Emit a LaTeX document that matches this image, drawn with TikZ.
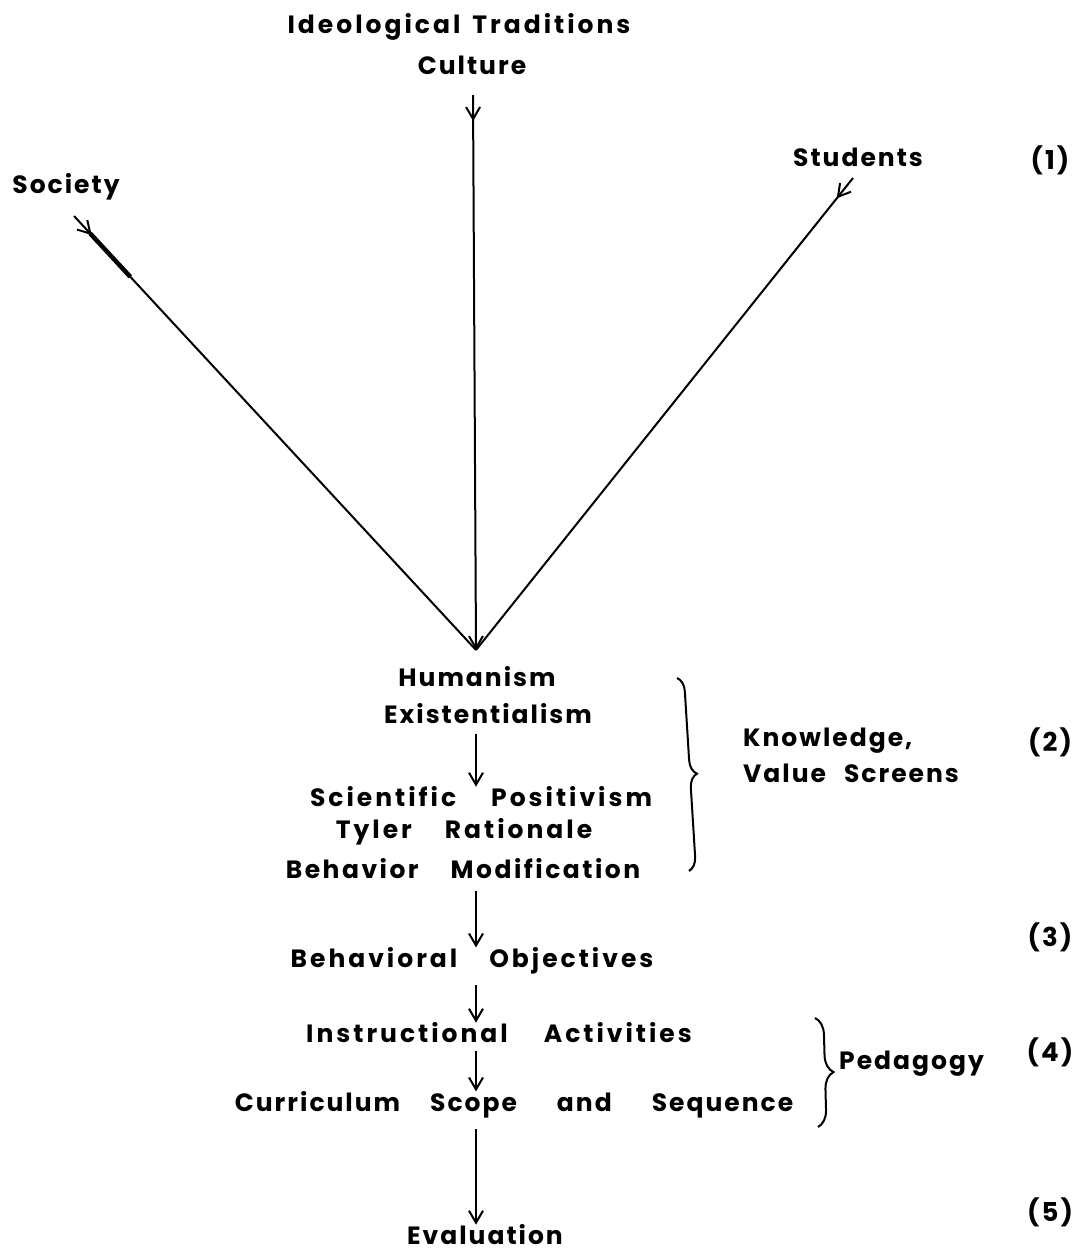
\documentclass[tikz,border=0pt]{standalone}
\usepackage{fontspec}
\setmainfont{Poppins}[LetterSpace=8]
\usetikzlibrary{arrows.meta,decorations.markings,decorations.pathreplacing,calc}

\newcommand{\gap}[1][20pt]{\hspace{#1}}

\tikzset{
  term/.style={font=\bfseries\fontsize{25}{36}\selectfont, inner sep=0pt},
  wide/.style={font=\bfseries\fontsize{25}{36}\selectfont\addfontfeature{LetterSpace=#1}},
  num/.style={font=\bfseries\fontsize{26}{30}\selectfont, inner sep=0pt},
  tip/.tip={Straight Barb[length=12pt,width=14pt,line width=2pt]},
  flow/.style={line width=2pt, -tip},
  feed/.style={line width=2pt, postaction={decorate},
    decoration={markings, mark=at position 26pt with {\arrow{tip}}}},
  screen/.style={line width=2pt, decorate,
    decoration={brace, amplitude=#1}},
}

\begin{document}
\begin{tikzpicture}[x=1pt,y=-1pt]
  \useasboundingbox (0,0) rectangle (1082,1252);
  \coordinate (axis) at (476,0);

  % sources (1)
  \node[term,wide=12] (ideo) at (459,27) {Ideological\gap[12pt]Traditions};
  \node[term] (cult) at (472,65) {Culture};
  \node[term] (soc) at (66,187) {Society};
  \node[term] (stud) at (858,157) {Students};
  \node[num] (n1) at (1050,160) {(1)};

  \coordinate (cultstart) at (473,95);
  \coordinate (socstart) at (74,216);
  \coordinate (studstart) at (853,178);
  \coordinate (conv) at (476,650);

  \draw[feed] (socstart) -- (conv);
  \draw[line width=4.5pt] ($(socstart)!0.04!(conv)$) -- ($(socstart)!0.14!(conv)$);
  \draw[feed] (studstart) -- (conv);
  \draw[feed,flow] (cultstart) -- (conv);

  % knowledge, value screens (2)
  \node[term] (hum) at (477,677) {Humanism};
  \node[term] (exis) at (488,714) {Existentialism};
  \node[term,wide=12] (sci) at (481,797) {Scientific\gap[35pt]Positivism};
  \node[term,wide=12] (tyler) at (464,832) {Tyler\gap[33pt]Rationale};
  \node[term,wide=10] (behmod) at (463,869) {Behavior\gap[32pt]Modification};
  \node[term, align=left, anchor=west] (screens) at (743,755)
    {Knowledge,\\Value\gap[18pt]Screens};
  \node[num] (n2) at (1050,742) {(2)};

  \draw[flow] ($(exis.south -| axis)+(0,10)$) -- (sci.north -| axis);
  \draw[screen=14pt] (677,678) -- (689,871);

  % behavioral objectives (3)
  \node[term,wide=12] (objs) at (472,961) {Behavioral\gap[32pt]Objectives};
  \node[num] (n3) at (1050,937) {(3)};
  \draw[flow] ($(behmod.south -| axis)+(0,12)$) -- (objs.north -| axis);

  % pedagogy (4)
  \node[term,wide=12] (instr) at (499,1033) {Instructional\gap[36pt]Activities};
  \node[term] (scope) at (514,1105)
    {Curriculum\gap[30pt]Scope\gap[40pt]and\gap[40pt]Sequence};
  \node[term, anchor=west] (peda) at (839,1064) {Pedagogy};
  \node[num] (n4) at (1050,1052) {(4)};
  \draw[flow] ($(objs.south -| axis)+(0,10)$) -- (instr.north -| axis);
  \draw[flow] ($(instr.south -| axis)+(0,8)$) -- (scope.north -| axis);
  \draw[screen=17pt] (815,1018) -- (818,1127);

  % evaluation (5)
  \node[term] (eval) at (485,1235) {Evaluation};
  \node[num] (n5) at (1050,1212) {(5)};
  \draw[flow] ($(scope.south -| axis)+(0,10)$) -- (eval.north -| axis);
\end{tikzpicture}
\end{document}
